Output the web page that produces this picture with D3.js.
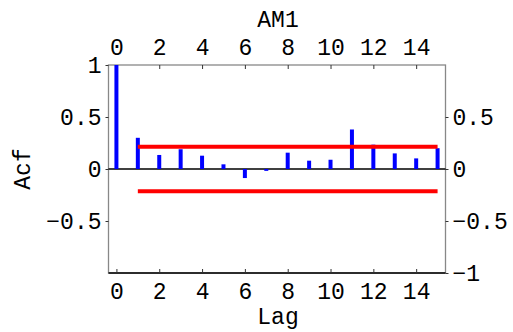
<!DOCTYPE html>
<html>
<head>
<meta charset="utf-8">
<script src="https://cdn.jsdelivr.net/npm/d3@7"></script>
<style>
  body { margin: 0; background: #fff; }
  text { font-family: "Liberation Mono", "Courier New", monospace; font-size: 23px; fill: #000; }
</style>
</head>
<body>
<div id="chart"></div>
<script>
// acf values per lag
const lags = d3.range(0, 16);
const acfValues = [1, 0.30, 0.135, 0.19, 0.128, 0.045, -0.087, -0.018, 0.157, 0.08, 0.089, 0.38, 0.234, 0.15, 0.102, 0.2];
const confBand = [0.215, -0.215];
const xTicks = [0, 2, 4, 6, 8, 10, 12, 14];
const leftTicks = [1, 0.5, 0, -0.5];
const rightTicks = [0.5, 0, -0.5, -1];

const width = 513, height = 332;
const frameL = 108.5, frameR = 445.5, frameT = 65, frameB = 273;

const svg = d3.select("#chart").append("svg")
  .attr("width", width)
  .attr("height", height);

const x = d3.scaleLinear().domain([-0.37, 15.37]).range([frameL, frameR]);
const y = d3.scaleLinear().domain([-1, 1]).range([frameB, frameT]);

const fmt = d => d === 0 ? "0" : String(d).replace("-", "\u2212");

// frame
svg.append("rect")
  .attr("x", frameL).attr("y", frameT)
  .attr("width", frameR - frameL).attr("height", frameB - frameT)
  .attr("fill", "none").attr("stroke", "#888").attr("stroke-width", 1.3);
svg.append("line")
  .attr("x1", frameL).attr("x2", frameR)
  .attr("y1", frameB).attr("y2", frameB)
  .attr("stroke", "#000").attr("stroke-width", 1.3);

// axes
const topAxis = svg.append("g").attr("transform", `translate(0,${frameT})`)
  .call(d3.axisTop(x).tickValues(xTicks).tickSizeInner(-4).tickSizeOuter(0).tickPadding(10).tickFormat(d3.format("d")));
const bottomAxis = svg.append("g").attr("transform", `translate(0,${frameB})`)
  .call(d3.axisBottom(x).tickValues(xTicks).tickSizeInner(-4).tickSizeOuter(0).tickPadding(10).tickFormat(d3.format("d")));
const leftAxis = svg.append("g").attr("transform", `translate(${frameL},0)`)
  .call(d3.axisLeft(y).tickValues(leftTicks).tickSizeInner(3).tickSizeOuter(0).tickPadding(4).tickFormat(fmt));
const rightAxis = svg.append("g").attr("transform", `translate(${frameR},0)`)
  .call(d3.axisRight(y).tickValues(rightTicks).tickSizeInner(3).tickSizeOuter(0).tickPadding(4).tickFormat(fmt));

[topAxis, bottomAxis, leftAxis, rightAxis].forEach(g => {
  g.select(".domain").remove();
  g.selectAll(".tick line").attr("stroke", "#333");
  g.selectAll("text").attr("font-family", null).attr("font-size", null).attr("fill", "#000");
});

// zero line
svg.append("line")
  .attr("x1", frameL).attr("x2", frameR)
  .attr("y1", y(0)).attr("y2", y(0))
  .attr("stroke", "#000").attr("stroke-width", 1.3);

// acf bars
svg.selectAll(".bar").data(lags).enter().append("line")
  .attr("class", "bar")
  .attr("x1", d => x(d)).attr("x2", d => x(d))
  .attr("y1", y(0)).attr("y2", d => y(acfValues[d]))
  .attr("stroke", "#0000ff").attr("stroke-width", 4);

// confidence band
svg.selectAll(".band").data(confBand).enter().append("line")
  .attr("class", "band")
  .attr("x1", x(1)).attr("x2", x(15))
  .attr("y1", d => y(d)).attr("y2", d => y(d))
  .attr("stroke", "#ff0000").attr("stroke-width", 4);

// titles
svg.append("text").attr("x", (frameL + frameR) / 2 + 1).attr("y", 27)
  .attr("text-anchor", "middle").text("AM1");
svg.append("text").attr("x", (frameL + frameR) / 2 + 1).attr("y", 324)
  .attr("text-anchor", "middle").text("Lag");
svg.append("text")
  .attr("transform", `translate(30,${y(0)}) rotate(-90)`)
  .attr("text-anchor", "middle").text("Acf");
</script>
</body>
</html>
